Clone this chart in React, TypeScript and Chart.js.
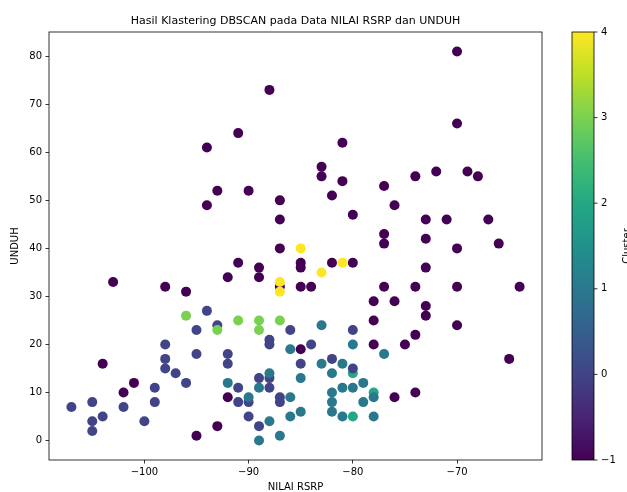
import React, { useEffect, useRef } from 'react';
import { Chart, registerables } from 'chart.js';

Chart.register(...registerables);

// ---- data ----
const noiseRsrp = [-103, -98, -96, -104, -101, -102, -95, -93, -92, -85,
  -87, -91, -89, -85, -85, -82, -80, -92, -89, -87, -85, -84,
  -88, -91, -94, -93, -90, -94, -87, -87,
  -70, -70, -81, -83, -83, -81, -82, -80, -77, -76, -74, -72, -69, -68, -73, -71, -67, -77, -77, -73, -70, -66,
  -73, -77, -74, -70, -64, -78, -76, -73, -73, -78, -70, -74, -78, -75, -65, -76, -74];
const noiseUnduh = [33, 32, 31, 16, 12, 10, 1, 3, 9, 19,
  40, 37, 36, 37, 36, 37, 37, 34, 34, 32, 32, 32,
  73, 64, 61, 52, 52, 49, 50, 46,
  81, 66, 62, 57, 55, 54, 51, 47, 53, 49, 55, 56, 56, 55, 46, 46, 46, 43, 41, 42, 40, 41,
  36, 32, 32, 32, 32, 29, 29, 28, 26, 25, 24, 22, 20, 20, 17, 9, 10];

const c4Rsrp = [-85, -81, -83, -87, -87];
const c4Unduh = [40, 37, 35, 33, 31];

const c2Rsrp = [-80, -80, -78];
const c2Unduh = [14, 5, 10];

const c0Rsrp = [-94, -95, -98, -95, -98, -98, -97, -96, -99, -99, -107, -105, -102, -104, -105, -100, -105,
  -93, -86, -80, -88, -88, -84, -92, -92, -85, -82, -80, -91, -89, -88, -88, -91, -90, -87, -87, -90, -89];
const c0Unduh = [27, 23, 20, 18, 17, 15, 14, 12, 11, 8, 7, 8, 7, 5, 4, 4, 2,
  24, 23, 23, 21, 20, 20, 18, 16, 16, 17, 15, 11, 13, 13, 11, 8, 8, 9, 8, 5, 3];

const c3Rsrp = [-96, -93, -91, -89, -89, -87];
const c3Unduh = [26, 23, 25, 25, 23, 25];

const c1Rsrp = [-83, -86, -80, -83, -81, -82, -92, -88, -89, -85, -81, -80, -79, -82, -82, -82, -81, -79,
  -90, -86, -86, -85, -88, -87, -89, -77, -78, -78];
const c1Unduh = [24, 19, 20, 16, 16, 14, 12, 14, 11, 13, 11, 11, 12, 10, 8, 6, 5, 8,
  9, 9, 5, 6, 4, 1, 0, 18, 9, 5];

const xTicks = [-100, -90, -80, -70];
const yTicks = [0, 10, 20, 30, 40, 50, 60, 70, 80];
const cbTicks = [-1, 0, 1, 2, 3, 4];

const TITLE = 'Hasil Klastering DBSCAN pada Data NILAI RSRP dan UNDUH';
const XLABEL = 'NILAI RSRP';
const YLABEL = 'UNDUH';
const CBLABEL = 'Cluster';

// viridis
const viridis = ['#440154', '#482475', '#414487', '#355f8d', '#2a788e', '#21918c', '#22a884', '#44bf70', '#7ad151', '#bddf26', '#fde725'];
const clusterColor = (c: number) => viridis[(c + 1) * 2];

const W = 627;
const H = 492;
const FONT = "'DejaVu Sans', sans-serif";
const minus = (v: number) => String(v).replace('-', '\u2212');

export default function App() {
  const ref = useRef<HTMLCanvasElement>(null);

  useEffect(() => {
    const groups: [number, number[], number[]][] = [
      [-1, noiseRsrp, noiseUnduh],
      [4, c4Rsrp, c4Unduh],
      [2, c2Rsrp, c2Unduh],
      [0, c0Rsrp, c0Unduh],
      [3, c3Rsrp, c3Unduh],
      [1, c1Rsrp, c1Unduh],
    ];
    const pts: { x: number; y: number }[] = [];
    const cols: string[] = [];
    groups.forEach(([c, xs, ys]) => {
      xs.forEach((x, i) => {
        pts.push({ x, y: ys[i] });
        cols.push(clusterColor(c));
      });
    });

    const deco = {
      id: 'deco',
      afterDraw(chart: any) {
        const ctx = chart.ctx as CanvasRenderingContext2D;
        const a = chart.chartArea;
        ctx.save();
        // spines
        ctx.strokeStyle = '#000';
        ctx.lineWidth = 0.8;
        ctx.strokeRect(a.left, a.top, a.right - a.left, a.bottom - a.top);
        // title
        ctx.fillStyle = '#000';
        ctx.font = `11px ${FONT}`;
        ctx.textAlign = 'center';
        ctx.textBaseline = 'alphabetic';
        ctx.fillText(TITLE, (a.left + a.right) / 2, a.top - 8);
        // x label
        ctx.font = `10px ${FONT}`;
        ctx.textBaseline = 'middle';
        ctx.fillText(XLABEL, (a.left + a.right) / 2, 487);
        // y label
        ctx.save();
        ctx.translate(15, (a.top + a.bottom) / 2);
        ctx.rotate(-Math.PI / 2);
        ctx.fillText(YLABEL, 0, 0);
        ctx.restore();
        // colorbar
        const cx0 = 572, cx1 = 594;
        const g = ctx.createLinearGradient(0, a.bottom, 0, a.top);
        viridis.forEach((c, i) => g.addColorStop(i / (viridis.length - 1), c));
        ctx.fillStyle = g;
        ctx.fillRect(cx0, a.top, cx1 - cx0, a.bottom - a.top);
        ctx.strokeStyle = '#000';
        ctx.lineWidth = 0.8;
        ctx.strokeRect(cx0, a.top, cx1 - cx0, a.bottom - a.top);
        ctx.fillStyle = '#000';
        ctx.textAlign = 'left';
        ctx.textBaseline = 'middle';
        ctx.font = `10px ${FONT}`;
        cbTicks.forEach((t) => {
          const y = a.bottom - ((t - cbTicks[0]) / (cbTicks[cbTicks.length - 1] - cbTicks[0])) * (a.bottom - a.top);
          ctx.beginPath();
          ctx.moveTo(cx1, y);
          ctx.lineTo(cx1 + 3.5, y);
          ctx.stroke();
          ctx.fillText(minus(t), cx1 + 7, y);
        });
        ctx.save();
        ctx.translate(627, (a.top + a.bottom) / 2);
        ctx.rotate(-Math.PI / 2);
        ctx.textAlign = 'center';
        ctx.fillText(CBLABEL, 0, 0);
        ctx.restore();
        ctx.restore();
      },
    };

    const tickFont = { family: FONT, size: 10 };
    const chart = new Chart(ref.current as HTMLCanvasElement, {
      type: 'scatter',
      data: {
        datasets: [
          {
            data: pts,
            backgroundColor: cols,
            borderWidth: 0,
            pointRadius: 5,
            pointHoverRadius: 5,
          },
        ],
      },
      options: {
        responsive: false,
        animation: false,
        devicePixelRatio: 1,
        layout: { padding: { left: 0, right: W - 542, top: 32, bottom: 0 } },
        plugins: { legend: { display: false }, tooltip: { enabled: false }, title: { display: false } },
        scales: {
          x: {
            type: 'linear',
            position: 'bottom',
            min: -109.15,
            max: -61.85,
            afterFit: (s: any) => { s.height = 32; },
            afterBuildTicks: (s: any) => { s.ticks = xTicks.map((v) => ({ value: v })); },
            grid: { display: true, drawOnChartArea: false, drawTicks: true, tickLength: 3.5, tickColor: '#000', tickWidth: 0.8 },
            border: { display: false },
            ticks: { padding: 3, color: '#000', font: tickFont, maxRotation: 0, autoSkip: false, callback: (v: any) => minus(v) },
          },
          y: {
            type: 'linear',
            position: 'left',
            min: -4.05,
            max: 85.05,
            afterFit: (s: any) => { s.width = 49; },
            afterBuildTicks: (s: any) => { s.ticks = yTicks.map((v) => ({ value: v })); },
            grid: { display: true, drawOnChartArea: false, drawTicks: true, tickLength: 3.5, tickColor: '#000', tickWidth: 0.8 },
            border: { display: false },
            ticks: { padding: 3.5, color: '#000', font: tickFont, autoSkip: false, callback: (v: any) => minus(v) },
          },
        },
      },
      plugins: [deco],
    } as any);
    return () => chart.destroy();
  }, []);

  return (
    <div style={{ position: 'absolute', left: 0, top: 0, width: W, height: H, background: '#fff' }}>
      <canvas ref={ref} width={W} height={H} style={{ display: 'block' }} />
    </div>
  );
}
